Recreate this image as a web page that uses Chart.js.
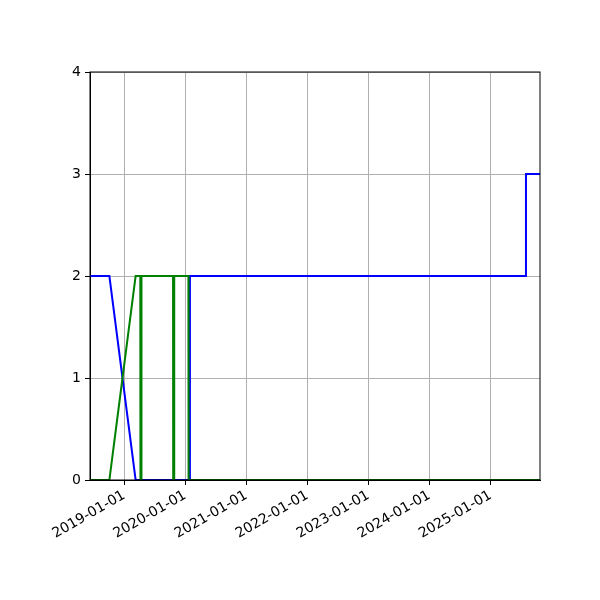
<!DOCTYPE html>
<html>
<head>
<meta charset="utf-8">
<script src="https://cdn.jsdelivr.net/npm/chart.js@4"></script>
<style>
  body { margin: 0; background: #fff; }
  #wrap { width: 600px; height: 600px; }
</style>
</head>
<body>
<div id="wrap"><canvas id="stepChart"></canvas></div>
<script>
// blue series
const blueDates = ['2018-06-10', '2018-10-04', '2019-03-10', '2020-01-28', '2020-01-29', '2025-07-31', '2025-08-01', '2025-10-24'];
const blueValues = [2, 2, 0, 0, 2, 2, 3, 3];

// green series (short dips back to 0 in 2019)
const greenDates = ['2018-06-10', '2018-10-04', '2019-03-10', '2019-04-07', '2019-04-08', '2019-04-13', '2019-04-14',
  '2019-10-20', '2019-10-21', '2019-10-26', '2019-10-27', '2020-01-20', '2020-01-21', '2025-10-24'];
const greenValues = [0, 0, 2, 2, 0, 0, 2, 2, 0, 0, 2, 2, 0, 0];

const tickLabels = ['2019-01-01', '2020-01-01', '2021-01-01', '2022-01-01', '2023-01-01', '2024-01-01', '2025-01-01'];
const xStart = '2018-06-10';
const xEnd = '2025-10-24';

function toPoints(dates, values) {
  return dates.map((d, i) => ({ x: Date.parse(d), y: values[i] }));
}

// matplotlib draws all four spines
const frame = {
  id: 'frame',
  afterDraw(chart) {
    const a = chart.chartArea;
    const c = chart.ctx;
    c.save();
    c.strokeStyle = '#000';
    c.lineWidth = 1;
    c.strokeRect(a.left, a.top, a.right - a.left, a.bottom - a.top);
    c.restore();
  }
};

Chart.defaults.font.family = 'DejaVu Sans';
Chart.defaults.font.size = 14;
Chart.defaults.color = '#000';

const ctx = document.getElementById('stepChart').getContext('2d');
new Chart(ctx, {
  type: 'line',
  data: {
    datasets: [
      {
        label: 'green',
        data: toPoints(greenDates, greenValues),
        borderColor: '#008000',
        borderWidth: 2,
        pointRadius: 0,
        tension: 0,
        order: 1
      },
      {
        label: 'blue',
        data: toPoints(blueDates, blueValues),
        borderColor: '#0000ff',
        borderWidth: 2,
        pointRadius: 0,
        tension: 0,
        order: 2
      }
    ]
  },
  options: {
    responsive: true,
    maintainAspectRatio: false,
    animation: false,
    layout: { padding: { top: 72, right: 60, left: 0, bottom: 0 } },
    scales: {
      x: {
        type: 'linear',
        min: Date.parse(xStart),
        max: Date.parse(xEnd),
        afterBuildTicks: scale => {
          scale.ticks = tickLabels.map(t => ({ value: Date.parse(t) }));
        },
        afterFit: scale => { scale.height = 120; },
        ticks: {
          autoSkip: false,
          minRotation: 30,
          maxRotation: 30,
          padding: 2,
          callback: v => new Date(v).toISOString().slice(0, 10)
        },
        grid: { color: '#b0b0b0', lineWidth: 1, tickColor: '#000', tickLength: 5 },
        border: { color: '#000', width: 1 }
      },
      y: {
        min: 0,
        max: 4,
        afterFit: scale => { scale.width = 90; },
        ticks: { stepSize: 1, padding: 4 },
        grid: { color: '#b0b0b0', lineWidth: 1, tickColor: '#000', tickLength: 5 },
        border: { color: '#000', width: 1 }
      }
    },
    plugins: {
      legend: { display: false },
      tooltip: { enabled: false }
    }
  },
  plugins: [frame]
});
</script>
</body>
</html>
